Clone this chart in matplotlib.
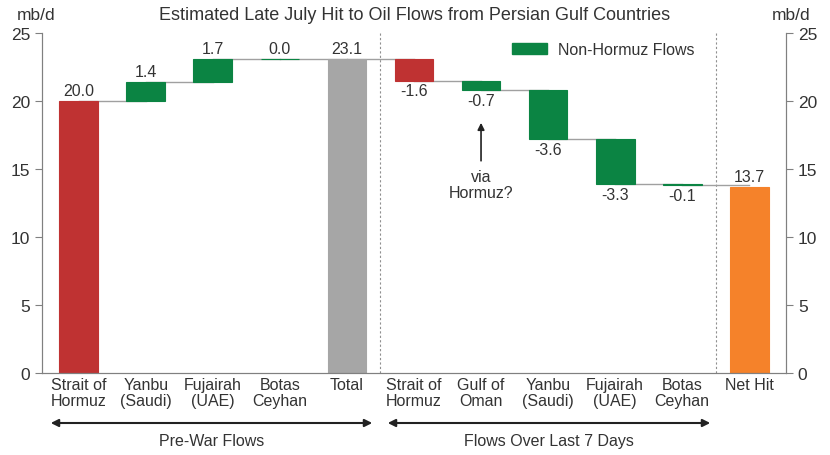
import matplotlib
matplotlib.use("Agg")
import matplotlib.pyplot as plt
from matplotlib.patches import Patch

plt.rcParams['font.family'] = ['Liberation Sans', 'DejaVu Sans']

# data
categories = ["Strait of\nHormuz", "Yanbu\n(Saudi)", "Fujairah\n(UAE)", "Botas\nCeyhan", "Total",
              "Strait of\nHormuz", "Gulf of\nOman", "Yanbu\n(Saudi)", "Fujairah\n(UAE)", "Botas\nCeyhan",
              "Net Hit"]
prewar = [20.0, 1.4, 1.7, 0.0]          # pre-war flows
prewar_total = 23.1
changes = [-1.6, -0.7, -3.6, -3.3, -0.1]  # flows over last 7 days
net_hit = 13.7
labels_prewar = ["20.0", "1.4", "1.7", "0.0"]
labels_changes = ["-1.6", "-0.7", "-3.6", "-3.3", "-0.1"]

RED = "#BF3232"
GREEN = "#0B8443"
GRAY = "#A6A6A6"
ORANGE = "#F5822A"
LINE = "#A0A0A0"
TXT = "#333333"

fig = plt.figure(figsize=(8.3, 4.56), dpi=100)
ax = fig.add_axes([0.0506, 0.1798, 0.8964, 0.7456])

w = 0.58
bottoms, heights, colors, texts = [], [], [], []
level = 0.0
for i, v in enumerate(prewar):
    bottoms.append(level)
    heights.append(v)
    colors.append(RED if i == 0 else GREEN)
    texts.append(labels_prewar[i])
    level += v
bottoms.append(0)
heights.append(prewar_total)
colors.append(GRAY)
texts.append("%.1f" % prewar_total)
level = prewar_total
for i, c in enumerate(changes):
    bottoms.append(level + c)
    heights.append(-c)
    colors.append(RED if i == 0 else GREEN)
    texts.append(labels_changes[i])
    level += c
bottoms.append(0)
heights.append(net_hit)
colors.append(ORANGE)
texts.append("%.1f" % net_hit)

x = list(range(len(categories)))

# connectors
levels = [b + h for b, h in zip(bottoms[:5], heights[:5])]
levels += [b for b in bottoms[5:10]]
for i, lv in enumerate(levels):
    ax.plot([i, i + 1], [lv, lv], color=LINE, lw=1, zorder=1)

ax.bar(x, heights, bottom=bottoms, width=w, color=colors, edgecolor=colors, lw=0.8, zorder=2)

# value labels
for i in x:
    if 5 <= i <= 9:
        ax.annotate(texts[i], (i, bottoms[i]), xytext=(0, -2), textcoords="offset points",
                    ha="center", va="top", fontsize=11.5, color=TXT)
    else:
        ax.annotate(texts[i], (i, bottoms[i] + heights[i]), xytext=(0, 2), textcoords="offset points",
                    ha="center", va="bottom", fontsize=11.5, color=TXT)

# dividers
for xd in [4.5, 9.5]:
    ax.plot([xd, xd], [0, 25], color="#909090", lw=0.8, ls=(0, (2, 2)), zorder=0)

ax.set_xlim(-0.55, 10.55)
ax.set_ylim(0, 25)
ax.set_yticks(range(0, 26, 5))
ax.set_xticks(x)
ax.set_xticklabels(categories, fontsize=11.5, color=TXT, linespacing=1.05)
ax.tick_params(axis="x", length=0, pad=3)
ax.tick_params(axis="y", labelsize=12.5, colors=TXT, length=5, color="#808080")
for s in ["left", "right", "bottom"]:
    ax.spines[s].set_color("#808080")
ax.spines["top"].set_visible(False)

ax2 = ax.twinx()
ax2.set_ylim(0, 25)
ax2.set_yticks(range(0, 26, 5))
ax2.tick_params(axis="y", labelsize=12.5, colors=TXT, length=5, color="#808080")
for s in ["left", "right", "bottom"]:
    ax2.spines[s].set_color("#808080")
ax2.spines["top"].set_visible(False)

# legend
ax.legend(handles=[Patch(facecolor=GREEN, edgecolor=GREEN, label="Non-Hormuz Flows")],
          loc="upper left", bbox_to_anchor=(0.612, 1.015), frameon=False, fontsize=11.5,
          handlelength=2.2, handleheight=0.7, handletextpad=0.7, labelcolor=TXT)

# annotation
ax.annotate("", xy=(6, 18.6), xytext=(6, 15.4),
            arrowprops=dict(arrowstyle="-|>", color="#222222", lw=1.2, mutation_scale=10))
ax.text(6, 15.0, "via\nHormuz?", ha="center", va="top", fontsize=11.5, color=TXT, linespacing=1.05)

# titles
fig.text(0.5, 0.967, "Estimated Late July Hit to Oil Flows from Persian Gulf Countries",
         ha="center", va="center", fontsize=13, color=TXT)
fig.text(0.044, 0.967, "mb/d", ha="center", va="center", fontsize=12.5, color=TXT)
fig.text(0.953, 0.967, "mb/d", ha="center", va="center", fontsize=12.5, color=TXT)

# bottom group arrows
for x0, x1, lab in [(48, 375, "Pre-War Flows"), (385, 713, "Flows Over Last 7 Days")]:
    fig.patches.append(matplotlib.patches.FancyArrowPatch(
        (x0 / 830, 1 - 424 / 456), (x1 / 830, 1 - 424 / 456), transform=fig.transFigure,
        arrowstyle="<|-|>", mutation_scale=11, color="#222222", lw=1.5))
    fig.text((x0 + x1) / 2 / 830, 1 - 442 / 456, lab, ha="center", va="center",
             fontsize=11.5, color=TXT)

fig.savefig("out.png", dpi=100)
